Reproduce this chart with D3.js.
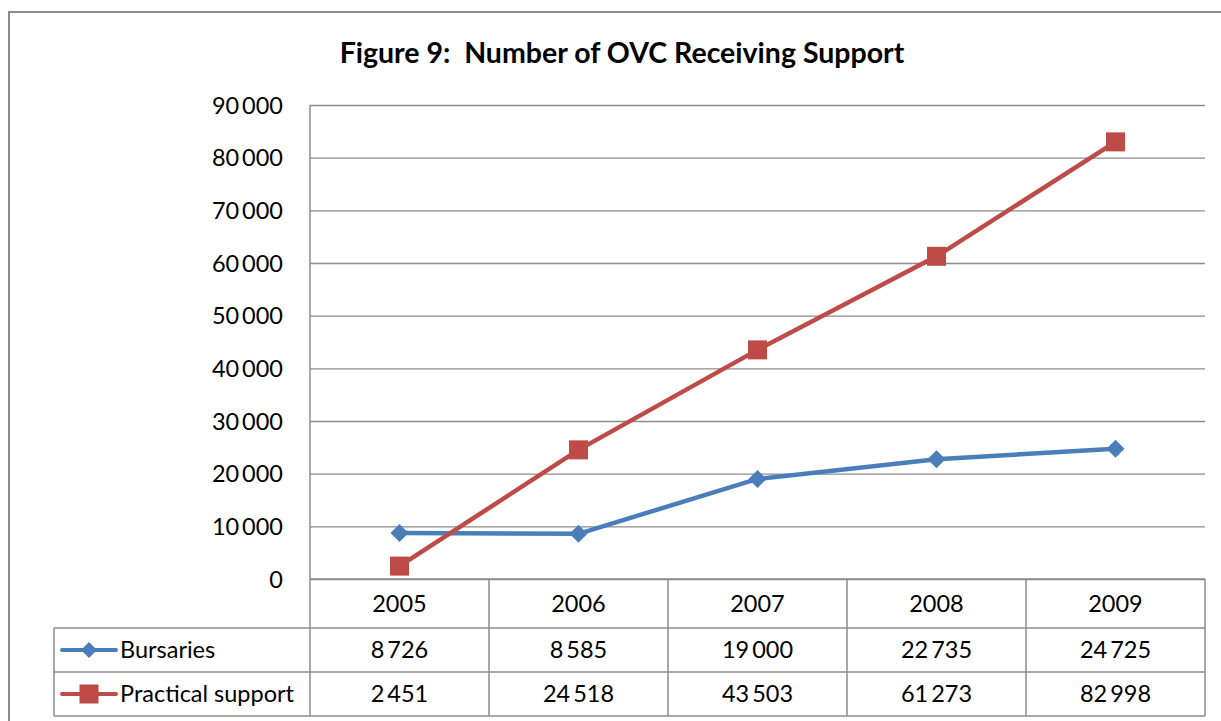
<!DOCTYPE html>
<meta charset="utf-8">
<style>
 body { margin: 0; background: #fff; }
 text { font-family: Lato, "Open Sans", sans-serif; fill: #000; }
</style>
<script src="https://d3js.org/d3.v7.min.js"></script>
<svg width="1221" height="721"></svg>
<script>
const years = ['2005', '2006', '2007', '2008', '2009'];
const bursaries = [8726, 8585, 19000, 22735, 24725];
const practical = [2451, 24518, 43503, 61273, 82998];
const seriesNames = ['Bursaries', 'Practical support'];
const yTicks = [0, 10000, 20000, 30000, 40000, 50000, 60000, 70000, 80000, 90000];
const title = 'Figure 9:  Number of OVC Receiving Support';

const svg = d3.select('svg');
const plotLeft = 310, plotRight = 1205, plotTop = 105, plotBottom = 579;
const rowY = [579, 628, 672, 716];
const legendLeft = 54;
const grid = '#8c8c8c';
const colors = ['#4a7ebb', '#be4b48'];
const fs = 23.5;

// thin-space thousands
const fmt = v => d3.format(',')(v).replace(/,/g, '\u2009');

// outer frame
svg.append('rect')
	.attr('x', 9).attr('y', 12)
	.attr('width', 1300).attr('height', 800)
	.attr('fill', 'none')
	.attr('stroke', grid)
	.attr('stroke-width', 2);

svg.append('text')
	.attr('x', 622).attr('y', 63)
	.attr('text-anchor', 'middle')
	.attr('font-size', 28.5)
	.attr('font-weight', 'bold')
	.style('white-space', 'pre')
	.text(title);

const x = d3.scaleBand().domain(years).range([plotLeft, plotRight]);
const y = d3.scaleLinear().domain([0, 90000]).range([plotBottom, plotTop]);

// gridlines
svg.append('g')
	.attr('transform', `translate(${plotLeft},0)`)
	.call(d3.axisLeft(y).tickValues(yTicks).tickSize(-(plotRight - plotLeft)).tickFormat(''))
	.call(g => g.select('.domain').remove())
	.call(g => g.selectAll('line').attr('stroke', grid).attr('stroke-width', 1.3));

// tick labels
svg.append('g')
	.attr('transform', `translate(${plotLeft},0)`)
	.call(d3.axisLeft(y).tickValues(yTicks).tickSize(0).tickPadding(27).tickFormat(fmt))
	.call(g => g.select('.domain').remove())
	.call(g => g.selectAll('text')
		.attr('font-size', fs)
		.attr('font-family', 'Lato, sans-serif')
		.attr('fill', '#000')
		.attr('dy', '0.35em'));

// data table lines
const tbl = svg.append('g').attr('stroke', grid).attr('stroke-width', 1.5);
tbl.append('line').attr('x1', plotLeft).attr('x2', plotLeft).attr('y1', plotTop).attr('y2', rowY[3]);
x.domain().forEach(d => {
	tbl.append('line')
		.attr('x1', x(d) + x.bandwidth()).attr('x2', x(d) + x.bandwidth())
		.attr('y1', rowY[0]).attr('y2', rowY[3]);
});
[1, 2, 3].forEach(i => {
	tbl.append('line').attr('x1', legendLeft).attr('x2', plotRight)
		.attr('y1', rowY[i]).attr('y2', rowY[i]);
});
tbl.append('line').attr('x1', plotLeft).attr('x2', plotRight).attr('y1', rowY[0]).attr('y2', rowY[0]);
tbl.append('line').attr('x1', legendLeft).attr('x2', legendLeft).attr('y1', rowY[1]).attr('y2', rowY[3]);

// year row
svg.append('g').selectAll('text').data(years).join('text')
	.attr('x', d => x(d) + x.bandwidth() / 2)
	.attr('y', (rowY[0] + rowY[1]) / 2)
	.attr('dy', '0.35em')
	.attr('text-anchor', 'middle')
	.attr('font-size', fs)
	.text(d => d);

const series = [bursaries, practical];
const cx = d => x(d) + x.bandwidth() / 2;

const marker = (g, i, px, py, s) => {
	if (i === 0) {
		g.append('path')
			.attr('d', `M${px},${py - s}L${px + s},${py}L${px},${py + s}L${px - s},${py}Z`)
			.attr('fill', colors[i]);
	} else {
		g.append('rect')
			.attr('x', px - s).attr('y', py - s)
			.attr('width', 2 * s).attr('height', 2 * s)
			.attr('fill', colors[i]);
	}
};

series.forEach((vals, i) => {
	const line = d3.line().x((d, j) => cx(years[j])).y(d => y(d));
	svg.append('path')
		.datum(vals)
		.attr('d', line)
		.attr('fill', 'none')
		.attr('stroke', colors[i])
		.attr('stroke-width', 4.5);
	const g = svg.append('g');
	vals.forEach((v, j) => marker(g, i, cx(years[j]), y(v), i === 0 ? 9 : 9.5));

	// table row
	const ry = (rowY[i + 1] + rowY[i + 2]) / 2;
	svg.append('g').selectAll('text').data(vals).join('text')
		.attr('x', (d, j) => cx(years[j]))
		.attr('y', ry)
		.attr('dy', '0.35em')
		.attr('text-anchor', 'middle')
		.attr('font-size', fs)
		.text(fmt);

	// legend key
	const lg = svg.append('g');
	lg.append('line')
		.attr('x1', 62).attr('x2', 116)
		.attr('y1', ry).attr('y2', ry)
		.attr('stroke', colors[i]).attr('stroke-width', 4)
		.attr('stroke-linecap', 'round');
	marker(lg, i, 89, ry, i === 0 ? 8 : 9.5);
	lg.append('text')
		.attr('x', 120).attr('y', ry)
		.attr('dy', '0.35em')
		.attr('font-size', fs)
		.text(seriesNames[i]);
});
</script>
